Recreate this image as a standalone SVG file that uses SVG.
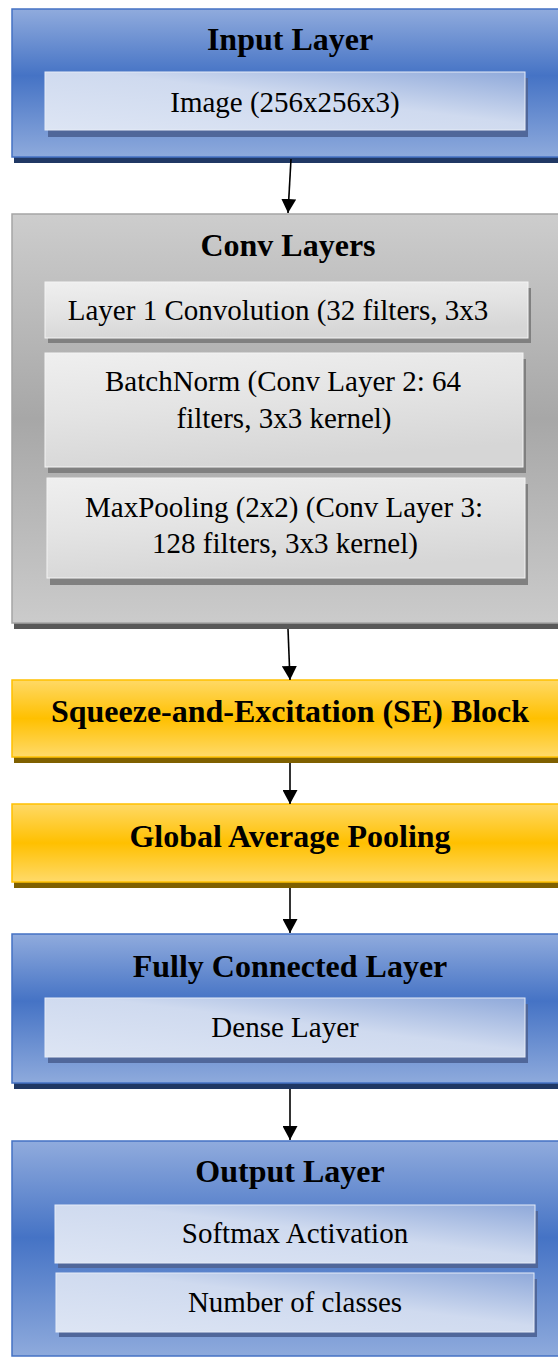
<svg xmlns="http://www.w3.org/2000/svg" width="558" height="1357" viewBox="0 0 558 1357">
<defs>
<linearGradient id="gBlueOuter" x1="0" y1="0" x2="0" y2="1">
<stop offset="0" stop-color="#90abdd"/>
<stop offset="0.45" stop-color="#4573c5"/>
<stop offset="1" stop-color="#8eaadc"/>
</linearGradient>
<linearGradient id="gBlueInner" x1="0" y1="1" x2="1" y2="0">
<stop offset="0" stop-color="#dde5f4"/>
<stop offset="0.55" stop-color="#cfdaef"/>
<stop offset="1" stop-color="#8fa9da"/>
</linearGradient>
<linearGradient id="gGrayOuter" x1="0" y1="0" x2="0" y2="1">
<stop offset="0" stop-color="#cdcdcd"/>
<stop offset="0.5" stop-color="#a7a7a7"/>
<stop offset="1" stop-color="#cbcbcb"/>
</linearGradient>
<linearGradient id="gGrayInner" x1="0" y1="0" x2="0.3" y2="1">
<stop offset="0" stop-color="#efefef"/>
<stop offset="0.5" stop-color="#e4e4e4"/>
<stop offset="1" stop-color="#d6d6d6"/>
</linearGradient>
<linearGradient id="gYellow" x1="0" y1="0" x2="0" y2="1">
<stop offset="0" stop-color="#ffd966"/>
<stop offset="0.5" stop-color="#ffc000"/>
<stop offset="1" stop-color="#ffda6a"/>
</linearGradient>
<marker id="arrow" markerUnits="userSpaceOnUse" markerWidth="16" markerHeight="15" refX="14" refY="7.5" orient="auto">
<path d="M0,0 L14,7.5 L0,15 Z" fill="#000"/>
</marker>
</defs>
<style>
.t{font-family:"Liberation Serif","Times New Roman",serif;fill:#000;text-anchor:middle}
.b{font-weight:bold;font-size:32px}
.r{font-size:29px}
.blueO{fill:url(#gBlueOuter);stroke:#4472c4;stroke-width:1.5}
.blueOS{fill:#203864}
.blueI{fill:url(#gBlueInner);stroke:#e6ecf7;stroke-width:1}
.blueIS{fill:#50679a}
.grayO{fill:url(#gGrayOuter);stroke:#a5a5a5;stroke-width:1.5}
.grayOS{fill:#595959}
.grayI{fill:url(#gGrayInner);stroke:#f4f4f4;stroke-width:1}
.grayIS{fill:#808080}
.yel{fill:url(#gYellow);stroke:#ffc000;stroke-width:1.5}
.yelS{fill:#7f6000}
.conn{stroke:#000;stroke-width:1.6;fill:none}
</style>

<g id="input-layer">
<rect class="blueOS" x="14" y="15" width="550" height="148"/>
<rect class="blueO" x="12" y="9" width="550" height="148"/>
<text class="t b" x="290" y="50">Input Layer</text>
<g id="image-node">
<rect class="blueIS" x="48" y="78" width="480" height="59"/>
<rect class="blueI" x="45" y="72" width="480" height="58"/>
<text class="t r" x="285" y="112">Image (256x256x3)</text>
</g>
</g>

<g id="conv-layers">
<rect class="grayOS" x="14" y="220" width="550" height="409"/>
<rect class="grayO" x="12" y="214" width="550" height="409"/>
<text class="t b" x="288" y="256">Conv Layers</text>
<g id="conv1">
<rect class="grayIS" x="48" y="288" width="483" height="55"/>
<rect class="grayI" x="45" y="282" width="483" height="56"/>
<text class="t r" x="278" y="320">Layer 1 Convolution (32 filters, 3x3</text>
</g>
<g id="batchnorm">
<rect class="grayIS" x="48" y="359" width="478" height="114"/>
<rect class="grayI" x="45" y="353" width="478" height="114"/>
<text class="t r" x="283" y="391">BatchNorm (Conv Layer 2: 64</text>
<text class="t r" x="284" y="428">filters, 3x3 kernel)</text>
</g>
<g id="maxpooling">
<rect class="grayIS" x="50" y="484" width="478" height="101"/>
<rect class="grayI" x="47" y="478" width="478" height="100"/>
<text class="t r" x="284" y="517">MaxPooling (2x2) (Conv Layer 3:</text>
<text class="t r" x="285" y="553">128 filters, 3x3 kernel)</text>
</g>
</g>

<g id="se-block">
<rect class="yelS" x="14" y="686" width="550" height="77"/>
<rect class="yel" x="12" y="680" width="550" height="77"/>
<text class="t b" x="290" y="722">Squeeze-and-Excitation (SE) Block</text>
</g>

<g id="gap">
<rect class="yelS" x="14" y="810" width="550" height="78"/>
<rect class="yel" x="12" y="804" width="550" height="78"/>
<text class="t b" x="290" y="847">Global Average Pooling</text>
</g>

<g id="fc-layer">
<rect class="blueOS" x="14" y="940" width="550" height="149"/>
<rect class="blueO" x="12" y="934" width="550" height="149"/>
<text class="t b" x="290" y="977">Fully Connected Layer</text>
<g id="dense">
<rect class="blueIS" x="48" y="1004" width="480" height="59"/>
<rect class="blueI" x="45" y="998" width="480" height="59"/>
<text class="t r" x="285" y="1037">Dense Layer</text>
</g>
</g>

<g id="output-layer">
<rect class="blueO" x="12" y="1141" width="550" height="215"/>
<text class="t b" x="290" y="1182">Output Layer</text>
<g id="softmax">
<rect class="blueIS" x="58" y="1211" width="480" height="57"/>
<rect class="blueI" x="55" y="1205" width="480" height="58"/>
<text class="t r" x="295" y="1243">Softmax Activation</text>
</g>
<g id="classes">
<rect class="blueIS" x="59" y="1279" width="478" height="58"/>
<rect class="blueI" x="56" y="1273" width="478" height="59"/>
<text class="t r" x="295" y="1312">Number of classes</text>
</g>
</g>

<g id="connectors">
<line class="conn" x1="291" y1="159" x2="288" y2="213" marker-end="url(#arrow)"/>
<line class="conn" x1="288" y1="629" x2="290" y2="680" marker-end="url(#arrow)"/>
<line class="conn" x1="290" y1="763" x2="290" y2="804" marker-end="url(#arrow)"/>
<line class="conn" x1="290" y1="888" x2="290" y2="933" marker-end="url(#arrow)"/>
<line class="conn" x1="290" y1="1089" x2="290" y2="1140" marker-end="url(#arrow)"/>
</g>
</svg>
